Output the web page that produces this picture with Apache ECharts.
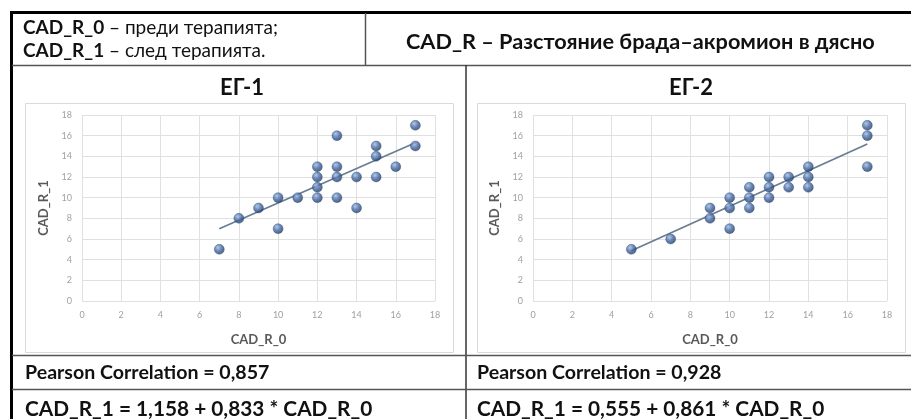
<!DOCTYPE html>
<html>
<head>
<meta charset="utf-8">
<script src="https://cdn.jsdelivr.net/npm/echarts@6/dist/echarts.min.js"></script>
<style>
html,body{margin:0;padding:0;background:#fff;}
#c{width:911px;height:419px;}
</style>
</head>
<body>
<div id="c"></div>
<script>
// ---- data ----
const groupTitles = ['ЕГ-1', 'ЕГ-2'];
const eg1X = [7, 8, 9, 10, 10, 11, 12, 12, 12, 12, 13, 13, 13, 13, 14, 14, 15, 15, 15, 16, 17, 17];
const eg1Y = [5, 8, 9, 10, 7, 10, 10, 11, 12, 13, 10, 12, 13, 16, 12, 9, 12, 14, 15, 13, 15, 17];
const eg2X = [5, 7, 9, 9, 10, 10, 10, 11, 11, 11, 12, 12, 12, 13, 13, 14, 14, 14, 17, 17, 17];
const eg2Y = [5, 6, 8, 9, 7, 9, 10, 9, 10, 11, 10, 11, 12, 11, 12, 11, 12, 13, 13, 16, 17];
const intercepts = [1.158, 0.555];
const slopes = [0.833, 0.861];
const pearson = ['0,857', '0,928'];
const eqIntercepts = ['1,158', '0,555'];
const eqSlopes = ['0,833', '0,861'];
const axisTicks = [0, 2, 4, 6, 8, 10, 12, 14, 16, 18];
const xName = 'CAD_R_0';
const yName = 'CAD_R_1';
const legendLines = [['CAD_R_0', ' – преди терапията;'], ['CAD_R_1', ' – след терапията.']];
const headerTitle = 'CAD_R – Разстояние брада–акромион в дясно';

const FAMILY = 'Lato';
const FONT = 'Lato, "Open Sans", sans-serif';
const chart = echarts.init(document.getElementById('c'));

// font sizing: scale a font so the text spans the wanted width
const ctx = document.createElement('canvas').getContext('2d');
function textW(parts, size) {
  let w = 0;
  parts.forEach(p => { ctx.font = p[1] + ' ' + size + 'px ' + FAMILY; w += ctx.measureText(p[0]).width; });
  return w;
}
function fit(parts, target) { return Math.round(20 * target / textW(parts, 20) * 10) / 10; }

function pairs(xs, ys) { return xs.map((x, i) => [x, ys[i]]); }
function trend(xs, a, b) {
  const lo = Math.min.apply(null, xs), hi = Math.max.apply(null, xs);
  return [[lo, a + b * lo], [hi, a + b * hi]];
}

const markerColor = {
  type: 'radial', x: 0.38, y: 0.33, r: 0.7,
  colorStops: [{offset: 0, color: '#9dbbe6'}, {offset: 0.5, color: '#44679e'}, {offset: 1, color: '#1e3864'}]
};

const grids = [
  {left: 82, top: 115, width: 353, height: 186},
  {left: 533, top: 115, width: 354, height: 186}
];

function axis(i, name) {
  return {
    gridIndex: i, type: 'value', min: axisTicks[0], max: axisTicks[axisTicks.length - 1], interval: axisTicks[1] - axisTicks[0],
    axisLine: {show: false}, axisTick: {show: false},
    splitLine: {show: true, lineStyle: {color: '#e0e0e0', width: 1}},
    axisLabel: {color: '#a0a0a0', fontSize: 9, fontFamily: FONT, margin: 10},
    name: name, nameLocation: 'middle', nameGap: 32,
    nameTextStyle: {color: '#595959', fontSize: 13, fontWeight: 'bold', fontFamily: FONT}
  };
}

const groupsX = [eg1X, eg2X], groupsY = [eg1Y, eg2Y];
const series = [];
[0, 1].forEach(i => {
  series.push({
    type: 'line', xAxisIndex: i, yAxisIndex: i, data: trend(groupsX[i], intercepts[i], slopes[i]),
    symbol: 'none', lineStyle: {color: '#687d94', width: 1.7}, z: 2, silent: true
  });
  series.push({
    type: 'scatter', xAxisIndex: i, yAxisIndex: i, data: pairs(groupsX[i], groupsY[i]),
    symbolSize: 10, itemStyle: {color: markerColor, borderColor: '#243f6b', borderWidth: 0.4}, z: 3
  });
});

const pearsonText = pearson.map(p => 'Pearson Correlation = ' + p);
const eqText = [0, 1].map(i => 'CAD_R_1 = ' + eqIntercepts[i] + ' + ' + eqSlopes[i] + ' * CAD_R_0');

const legSize = fit([[legendLines[0][0], 'bold'], [legendLines[0][1], 'normal']], 255);
const headSize = fit([[headerTitle, 'bold']], 470);
const titleSize = 22;
const pearSize = fit([[pearsonText[0], 'bold']], 244);
const eqSize = fit([[eqText[0], 'bold']], 347);

const LINE = '#555';
const graphic = [
  // chart boxes
  {type: 'rect', shape: {x: 25.5, y: 103.5, width: 428, height: 249}, style: {fill: 'none', stroke: '#dadada', lineWidth: 1}, z: -1},
  {type: 'rect', shape: {x: 477.5, y: 103.5, width: 428, height: 249}, style: {fill: 'none', stroke: '#dadada', lineWidth: 1}, z: -1},
  // table borders
  {type: 'line', shape: {x1: 10, y1: 12.5, x2: 911, y2: 12.5}, style: {stroke: '#000', lineWidth: 3}},
  {type: 'line', shape: {x1: 11.5, y1: 11, x2: 11.5, y2: 419}, style: {stroke: '#000', lineWidth: 3}},
  {type: 'line', shape: {x1: 365.5, y1: 13, x2: 365.5, y2: 65}, style: {stroke: LINE, lineWidth: 1.5}},
  {type: 'line', shape: {x1: 12, y1: 65.5, x2: 911, y2: 65.5}, style: {stroke: LINE, lineWidth: 1.5}},
  {type: 'line', shape: {x1: 466, y1: 65, x2: 466, y2: 419}, style: {stroke: '#333', lineWidth: 1.5}},
  {type: 'line', shape: {x1: 12, y1: 355.5, x2: 911, y2: 355.5}, style: {stroke: LINE, lineWidth: 1.5}},
  {type: 'line', shape: {x1: 12, y1: 389.5, x2: 911, y2: 389.5}, style: {stroke: LINE, lineWidth: 1.5}}
];
legendLines.forEach((ln, i) => {
  graphic.push({type: 'text', x: 23, y: i === 0 ? 28 : 51, style: {
    text: '{b|' + ln[0] + '}{r|' + ln[1] + '}', fill: '#111', verticalAlign: 'middle',
    rich: {b: {fontWeight: 'bold', fontSize: legSize, fontFamily: FONT, fill: '#111'}, r: {fontWeight: 'normal', fontSize: legSize, fontFamily: FONT, fill: '#111'}}
  }});
});
graphic.push({type: 'text', x: 406, y: 42, style: {text: headerTitle, font: 'bold ' + headSize + 'px ' + FONT, fill: '#111', verticalAlign: 'middle'}});
groupTitles.forEach((t, i) => {
  graphic.push({type: 'text', x: i === 0 ? 242 : 691, y: 88, style: {text: t, font: 'bold ' + titleSize + 'px ' + FONT, fill: '#111', align: 'center', verticalAlign: 'middle'}});
});
[0, 1].forEach(i => {
  const x0 = i === 0 ? 25 : 477;
  graphic.push({type: 'text', x: x0, y: 373, style: {text: pearsonText[i], font: 'bold ' + pearSize + 'px ' + FONT, fill: '#111', verticalAlign: 'middle'}});
  graphic.push({type: 'text', x: x0, y: 409, style: {text: eqText[i], font: 'bold ' + eqSize + 'px ' + FONT, fill: '#111', verticalAlign: 'middle'}});
});

chart.setOption({
  backgroundColor: '#fff',
  animation: false,
  grid: grids,
  xAxis: [axis(0, xName), axis(1, xName)],
  yAxis: [axis(0, yName), axis(1, yName)],
  series: series,
  graphic: graphic
});
</script>
</body>
</html>
